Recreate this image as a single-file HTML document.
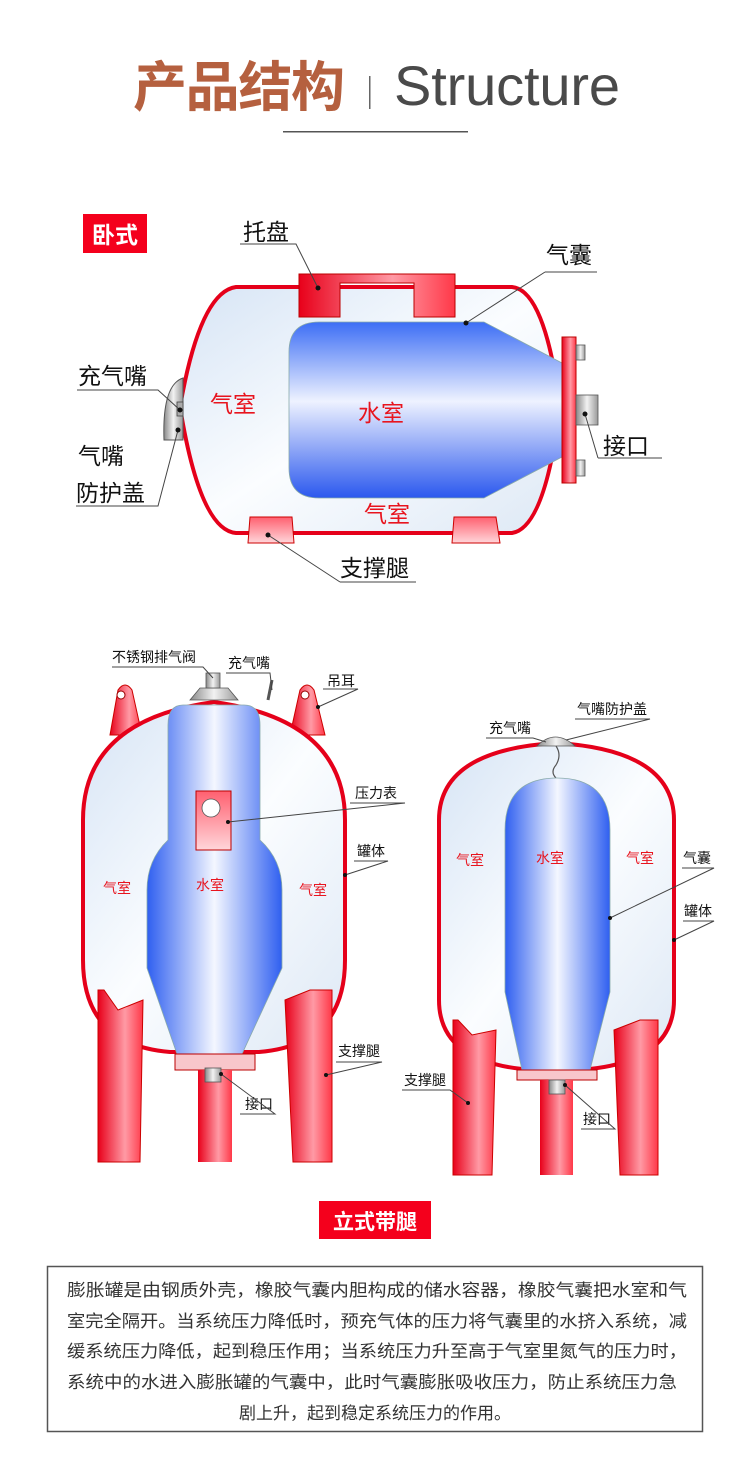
<!DOCTYPE html>
<html><head><meta charset="utf-8"><style>
html,body{margin:0;padding:0;background:#fff;}
svg{display:block;font-family:"Liberation Sans","Noto Sans CJK SC",sans-serif;}
</style></head><body>
<svg width="750" height="1458" viewBox="0 0 750 1458" xmlns="http://www.w3.org/2000/svg">
<defs>
<linearGradient id="blue" x1="0" x2="1" y1="0" y2="0">
<stop offset="0" stop-color="#2f5ff0"/><stop offset="0.5" stop-color="#f4f7ff"/><stop offset="1" stop-color="#2f5ff0"/></linearGradient>
<linearGradient id="blueV" x1="0" x2="0" y1="0" y2="1">
<stop offset="0" stop-color="#3d6ef5"/><stop offset="0.45" stop-color="#eef2ff"/><stop offset="1" stop-color="#2b58ee"/></linearGradient>
<linearGradient id="shell" x1="0" x2="1" y1="0" y2="1">
<stop offset="0" stop-color="#d6e4f5"/><stop offset="0.5" stop-color="#fbfdff"/><stop offset="1" stop-color="#dde8f5"/></linearGradient>
<linearGradient id="red" x1="0" x2="1">
<stop offset="0" stop-color="#e8001a"/><stop offset="0.6" stop-color="#ff9aa5"/><stop offset="1" stop-color="#ff3848"/></linearGradient>
<linearGradient id="redV" x1="0" x2="0" y1="0" y2="1">
<stop offset="0" stop-color="#ff6070"/><stop offset="1" stop-color="#ffd6da"/></linearGradient>
<linearGradient id="gray" x1="0" x2="1">
<stop offset="0" stop-color="#888"/><stop offset="0.5" stop-color="#f2f2f2"/><stop offset="1" stop-color="#999"/></linearGradient>
</defs>

<!-- Title -->
<text x="133" y="106" font-size="54" font-weight="bold" fill="#b5603f" textLength="212">产品结构</text>
<rect x="369" y="76" width="1.5" height="33" fill="#666"/>
<text x="394" y="105" font-size="56" fill="#4a4a4a" textLength="226" font-weight="normal" style="font-weight:300">Structure</text>
<rect x="283" y="131" width="185" height="1.5" fill="#555"/>

<!-- 卧式 -->
<rect x="83" y="214" width="64" height="39" fill="#f4001c"/>
<text x="115" y="243" font-size="23" font-weight="bold" fill="#fff" text-anchor="middle">卧式</text>

<!-- horizontal tank -->
<path d="M236 287 L512 287 Q545 290 560 407 Q545 528 512 533 L236 533 Q200 530 180 407 Q200 292 236 287 Z" fill="url(#shell)" stroke="#e5001a" stroke-width="4"/>
<path d="M164 440 Q162 385 183 378 L183 440 Z" fill="url(#gray)" stroke="#555" stroke-width="1"/>
<rect x="177" y="402" width="6" height="14" fill="#aaa" stroke="#444" stroke-width="0.8"/>
<path d="M319 322 L484 322 L562 363 L562 457 L484 498 L319 498 Q289 498 289 468 L289 352 Q289 322 319 322 Z" fill="url(#blueV)" stroke="#8aa" stroke-width="0.8"/>
<path d="M299 274 L455 274 L455 317 L414 317 L414 283 L340 283 L340 317 L299 317 Z" fill="url(#red)" stroke="#b00" stroke-width="1"/>
<rect x="562" y="337" width="14" height="146" fill="url(#red)" stroke="#b00"/>
<rect x="576" y="345" width="9" height="15" fill="url(#gray)" stroke="#555" stroke-width="0.8"/>
<rect x="576" y="460" width="9" height="16" fill="url(#gray)" stroke="#555" stroke-width="0.8"/>
<rect x="576" y="395" width="22" height="30" fill="url(#gray)" stroke="#555" stroke-width="0.8"/>
<path d="M250 517 L292 517 L294 543 L248 543 Z" fill="url(#redV)" stroke="#c00"/>
<path d="M454 517 L496 517 L500 543 L452 543 Z" fill="url(#redV)" stroke="#c00"/>
<g font-size="23" fill="#e8141e">
<text x="210" y="412">气室</text><text x="358" y="421">水室</text><text x="364" y="522">气室</text>
</g>
<g font-size="23" fill="#111">
<text x="243" y="240">托盘</text>
<text x="546" y="263">气囊</text>
<text x="78" y="384">充气嘴</text>
<text x="78" y="464">气嘴</text>
<text x="76" y="501">防护盖</text>
<text x="603" y="454">接口</text>
<text x="340" y="576">支撑腿</text>
</g>
<g stroke="#444" stroke-width="1" fill="none">
<path d="M240 244 L296 244 L318 288"/>
<path d="M545 272 L597 272 M545 272 L466 323"/>
<path d="M77 390 L158 390 L180 410"/>
<path d="M76 506 L158 506 L178 430"/>
<path d="M598 458 L662 458 M598 458 L585 414"/>
<path d="M340 582 L416 582 M340 582 L268 535"/>
</g>
<g fill="#111"><circle cx="318" cy="288" r="2.5"/><circle cx="466" cy="323" r="2.5"/><circle cx="180" cy="410" r="2.5"/><circle cx="178" cy="430" r="2.5"/><circle cx="585" cy="414" r="2.5"/><circle cx="268" cy="535" r="2.5"/></g>

<!-- left vertical tank -->
<path d="M110 735 L118 690 Q125 680 132 690 L142 735 Z" fill="url(#red)" stroke="#c00"/>
<path d="M290 735 L300 690 Q307 680 314 690 L325 735 Z" fill="url(#red)" stroke="#c00"/>
<circle cx="121" cy="695" r="4" fill="#fff" stroke="#900"/><circle cx="305" cy="695" r="4" fill="#fff" stroke="#900"/>
<path d="M83 820 Q83 720 214 702 Q345 720 345 820 L345 960 Q345 1045 259 1052 L170 1052 Q83 1045 83 960 Z" fill="url(#shell)" stroke="#e5001a" stroke-width="4"/>
<path d="M190 700 L238 700 L228 688 L200 688 Z" fill="url(#gray)" stroke="#555" stroke-width="0.8"/>
<rect x="206" y="673" width="14" height="15" fill="url(#gray)" stroke="#555" stroke-width="0.8"/>
<path d="M268 700 L272 680" stroke="#555" stroke-width="3"/>
<path d="M183 705 L244 705 Q260 705 260 725 L260 840 Q282 860 282 890 L282 968 L242 1054 L177 1054 L147 968 L147 890 Q147 860 168 840 L168 725 Q168 705 183 705 Z" fill="url(#blue)" stroke="#8aa" stroke-width="0.8"/>
<rect x="196" y="791" width="35" height="59" fill="url(#redV)" stroke="#b00"/>
<circle cx="211" cy="808" r="9" fill="#fff" stroke="#555" stroke-width="0.8"/>
<rect x="175" y="1054" width="80" height="16" fill="#f8c6cb" stroke="#b00"/>
<rect x="198" y="1070" width="34" height="92" fill="url(#red)"/>
<rect x="205" y="1068" width="16" height="14" fill="url(#gray)" stroke="#555" stroke-width="0.8"/>
<path d="M98 990 L104 990 L118 1010 L143 1000 L140 1162 L98 1162 Z" fill="url(#red)" stroke="#c00"/>
<path d="M285 1000 L310 990 L332 990 L332 1162 L293 1162 Z" fill="url(#red)" stroke="#c00"/>

<!-- right vertical tank -->
<path d="M439 820 Q439 750 556 743 Q674 750 674 820 L674 1000 Q674 1060 590 1069 L522 1069 Q439 1060 439 1000 Z" fill="url(#shell)" stroke="#e5001a" stroke-width="4"/>
<path d="M537 746 Q555 728 575 746 Z" fill="url(#gray)" stroke="#555" stroke-width="0.8"/>
<path d="M556 746 Q562 755 556 765 Q550 772 556 778" stroke="#555" stroke-width="1.2" fill="none"/>
<path d="M557 778 Q610 778 610 830 L610 992 L590 1070 L522 1070 L505 992 L505 830 Q505 778 557 778 Z" fill="url(#blue)" stroke="#8aa" stroke-width="0.8"/>
<rect x="517" y="1070" width="80" height="10" fill="#f8c6cb" stroke="#b00"/>
<rect x="540" y="1080" width="33" height="95" fill="url(#red)"/>
<rect x="549" y="1080" width="16" height="14" fill="url(#gray)" stroke="#555" stroke-width="0.8"/>
<path d="M453 1020 L458 1020 L472 1035 L496 1030 L492 1175 L453 1175 Z" fill="url(#red)" stroke="#c00"/>
<path d="M614 1030 L640 1020 L658 1020 L658 1175 L620 1175 Z" fill="url(#red)" stroke="#c00"/>

<g font-size="14" fill="#e8141e">
<text x="103" y="893">气室</text><text x="196" y="890">水室</text><text x="299" y="895">气室</text>
<text x="456" y="865">气室</text><text x="536" y="863">水室</text><text x="626" y="863">气室</text>
</g>
<g font-size="14" fill="#111">
<text x="112" y="662">不锈钢排气阀</text><text x="228" y="668">充气嘴</text><text x="327" y="686">吊耳</text>
<text x="355" y="798">压力表</text><text x="357" y="856">罐体</text><text x="338" y="1056">支撑腿</text><text x="245" y="1109">接口</text>
<text x="489" y="733">充气嘴</text><text x="577" y="714">气嘴防护盖</text><text x="683" y="863">气囊</text><text x="684" y="916">罐体</text>
<text x="404" y="1085">支撑腿</text><text x="583" y="1124">接口</text>
</g>
<g stroke="#444" stroke-width="1" fill="none">
<path d="M112 667 L203 667 L213 678"/>
<path d="M226 673 L270 673 L272 690"/>
<path d="M323 689 L358 689 L318 707"/>
<path d="M350 803 L405 803 L228 822"/>
<path d="M354 861 L388 861 L345 875"/>
<path d="M336 1062 L382 1062 L326 1075"/>
<path d="M240 1114 L275 1114 L221 1074"/>
<path d="M486 738 L533 738 L546 742"/>
<path d="M575 719 L650 719 L566 740"/>
<path d="M682 868 L714 868 L610 918"/>
<path d="M683 921 L714 921 L674 940"/>
<path d="M402 1090 L450 1090 L468 1103"/>
<path d="M581 1129 L615 1129 L565 1085"/>
</g>
<g fill="#111"><circle cx="228" cy="822" r="2"/><circle cx="345" cy="875" r="2"/><circle cx="326" cy="1075" r="2"/><circle cx="221" cy="1074" r="2"/><circle cx="318" cy="707" r="2"/><circle cx="610" cy="918" r="2"/><circle cx="674" cy="940" r="2"/><circle cx="468" cy="1103" r="2"/><circle cx="565" cy="1085" r="2"/></g>

<!-- 立式带腿 -->
<rect x="319" y="1201" width="112" height="38" fill="#f4001c"/>
<text x="375" y="1229" font-size="21" font-weight="bold" fill="#fff" text-anchor="middle">立式带腿</text>

<rect x="47.5" y="1266.5" width="655" height="165" fill="#fff" stroke="#555" stroke-width="1.5"/>
<g font-size="17" fill="#333">
<text x="67" y="1296" textLength="620" lengthAdjust="spacingAndGlyphs">膨胀罐是由钢质外壳，橡胶气囊内胆构成的储水容器，橡胶气囊把水室和气</text>
<text x="67" y="1327" textLength="620" lengthAdjust="spacingAndGlyphs">室完全隔开。当系统压力降低时，预充气体的压力将气囊里的水挤入系统，减</text>
<text x="67" y="1357" textLength="620" lengthAdjust="spacingAndGlyphs">缓系统压力降低，起到稳压作用；当系统压力升至高于气室里氮气的压力时，</text>
<text x="67" y="1388" textLength="610" lengthAdjust="spacingAndGlyphs">系统中的水进入膨胀罐的气囊中，此时气囊膨胀吸收压力，防止系统压力急</text>
<text x="375" y="1419" text-anchor="middle">剧上升，起到稳定系统压力的作用。</text>
</g>
</svg>
</body></html>
